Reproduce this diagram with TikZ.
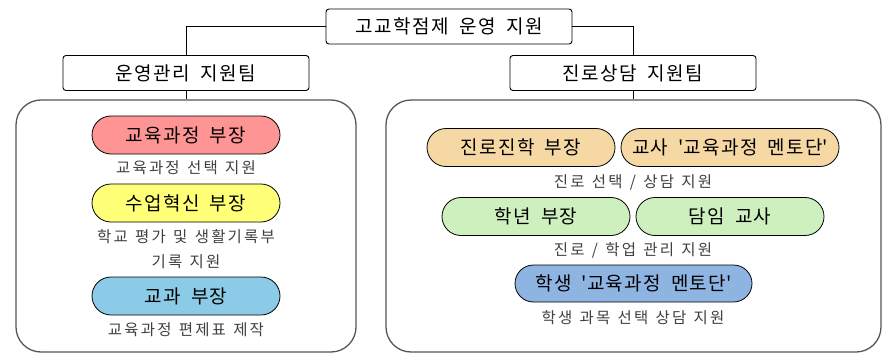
\documentclass[tikz,border=0pt]{standalone}
\usepackage{fontspec}
\setmainfont{Noto Sans CJK KR}
\newfontfamily\headfont[LetterSpace=8,WordSpace=1.8]{Noto Sans CJK KR}
\newfontfamily\pillfont[LetterSpace=7,WordSpace=1.8]{Noto Sans CJK KR}
\newfontfamily\capfont[LetterSpace=14,WordSpace=1.3]{Noto Sans CJK KR}
\usetikzlibrary{shapes.misc}

\definecolor{pillred}{RGB}{255,148,148}
\definecolor{pillyellow}{RGB}{255,255,120}
\definecolor{pillsky}{RGB}{140,203,232}
\definecolor{pillwheat}{RGB}{246,216,164}
\definecolor{pillgreen}{RGB}{206,240,190}
\definecolor{pillblue}{RGB}{142,180,226}
\definecolor{panelgray}{RGB}{85,85,85}

\newcommand{\sq}{\textquotesingle}

\tikzset{
  headbox/.style={draw, rounded corners=3pt, line width=0.9pt, minimum width=246pt,
    minimum height=35pt, inner sep=0pt, font=\headfont\fontsize{19}{22}\selectfont},
  panel/.style={draw=panelgray, rounded corners=25pt, line width=1.3pt, inner sep=0pt},
  pill/.style={draw, rounded rectangle, line width=0.8pt, minimum height=38pt,
    inner sep=0pt, font=\pillfont\fontsize{19}{22}\selectfont},
  caption/.style={text=black!75, inner sep=0pt, align=center,
    font=\capfont\fontsize{15.5}{25}\selectfont},
}

\begin{document}
\begin{tikzpicture}[x=1pt, y=-1pt]
    \useasboundingbox (0, 0) rectangle (886, 353);

    % ---------------------------------------------
    % headings
    \node[headbox] (top) at (449, 26.5) {고교학점제 운영 지원};
    \node[headbox] (ops) at (186, 73) {운영관리 지원팀};
    \node[headbox] (career) at (633, 73) {진로상담 지원팀};

    % panels
    \node[panel, minimum width=340pt, minimum height=252pt] (opspanel) at (186, 226) {};
    \node[panel, minimum width=495pt, minimum height=252pt] (careerpanel) at (633.5, 226) {};

    % connectors
    \draw[line width=0.8pt] (top.west) -| (ops.north);
    \draw[line width=0.8pt] (top.east) -| (career.north);
    \draw[line width=0.8pt] (ops.south) -- (ops.south |- opspanel.north);
    \draw[line width=0.8pt] (career.south) -- (career.south |- careerpanel.north);

    % left panel
    \node[pill, fill=pillred, minimum width=188pt] (curri) at (186, 135) {교육과정 부장};
    \node[caption] (curricap) at (186, 168) {교육과정 선택 지원};
    \node[pill, fill=pillyellow, minimum width=188pt] (lesson) at (186, 203) {수업혁신 부장};
    \node[caption] (lessoncap) at (186, 249.5) {학교 평가 및 생활기록부\\기록 지원};
    \node[pill, fill=pillsky, minimum width=188pt] (subject) at (186, 296) {교과 부장};
    \node[caption] (subjectcap) at (186, 330) {교육과정 편제표 제작};

    % right panel
    \node[pill, fill=pillwheat, minimum width=188pt] (path) at (521, 147.5) {진로진학 부장};
    \node[pill, fill=pillwheat, minimum width=218pt] (mentor) at (730, 147.5) {교사 \sq 교육과정 멘토단\sq};
    \node[caption] (pathcap) at (633, 182) {진로 선택 / 상담 지원};
    \node[pill, fill=pillgreen, minimum width=188pt] (grade) at (536, 216.5) {학년 부장};
    \node[pill, fill=pillgreen, minimum width=188pt] (homeroom) at (730, 216.5) {담임 교사};
    \node[caption] (gradecap) at (633, 250) {진로 / 학업 관리 지원};
    \node[pill, fill=pillblue, minimum width=237pt, minimum height=37pt] (student) at (633.5, 283.5) {학생 \sq 교육과정 멘토단\sq};
    \node[caption] (studentcap) at (633, 318) {학생 과목 선택 상담 지원};

\end{tikzpicture}
\end{document}
